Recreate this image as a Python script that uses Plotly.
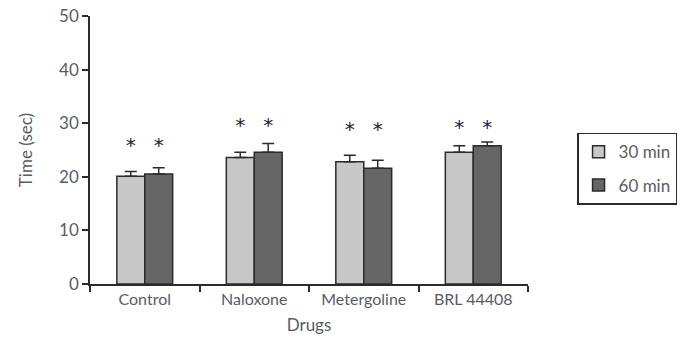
import plotly.graph_objects as go

drugs = ["Control", "Naloxone", "Metergoline", "BRL 44408"]
series_names = ["30 min", "60 min"]
time_30 = [20.1, 23.6, 22.8, 24.6]
err_30 = [0.9, 1.0, 1.2, 1.2]
time_60 = [20.5, 24.6, 21.6, 25.8]
err_60 = [1.2, 1.6, 1.5, 0.7]
star_30 = [25.6, 29.3, 28.5, 28.9]
star_60 = [25.6, 29.3, 28.5, 28.9]
y_ticks = [0, 10, 20, 30, 40, 50]

font_family = "Lato, 'Open Sans', sans-serif"
text_col = "#5b5b66"
line_col = "#2b2b2b"

fig = go.Figure()
for name, vals, errs, col in [
    (series_names[0], time_30, err_30, "#c8c8c8"),
    (series_names[1], time_60, err_60, "#666666"),
]:
    fig.add_trace(go.Bar(
        x=drugs, y=vals, name=name, offsetgroup=name, legendgroup=name,
        marker=dict(color=col, line=dict(color=line_col, width=1.5)),
        error_y=dict(type="data", array=errs, arrayminus=[0] * len(errs),
                     symmetric=False, color=line_col, thickness=1.5, width=6),
    ))

for name, ys in [(series_names[0], star_30), (series_names[1], star_60)]:
    fig.add_trace(go.Scatter(
        x=drugs, y=ys, mode="text", text=["*"] * len(ys),
        textfont=dict(size=20, color="#222233", family="DejaVu Sans"),
        textposition="middle center", showlegend=False, hoverinfo="skip",
        offsetgroup=name,
    ))

fig.update_layout(
    width=687, height=346,
    margin=dict(l=90, r=159, t=16, b=62, autoexpand=False),
    paper_bgcolor="white", plot_bgcolor="white",
    barmode="group", bargap=0.49, bargroupgap=0,
    scattermode="group", scattergap=0.49,
    font=dict(family=font_family, size=16, color=text_col),
    showlegend=True,
    legend=dict(xref="paper", x=1.112, xanchor="left", y=0.43, yanchor="middle",
                bordercolor=line_col, borderwidth=1.5,
                font=dict(size=17, color=text_col), itemwidth=30,
                tracegroupgap=8),
    xaxis=dict(
        showline=True, linecolor=line_col, linewidth=1.5,
        ticks="outside", tickson="boundaries", ticklen=6, tickwidth=1.5,
        tickcolor=line_col, showgrid=False, automargin=False,
        title=dict(text="Drugs", standoff=12, font=dict(size=17)),
        tickfont=dict(size=16),
    ),
    yaxis=dict(
        range=[0, 50], tickvals=y_ticks, automargin=False,
        showline=True, linecolor=line_col, linewidth=1.5,
        ticks="outside", ticklen=6, tickwidth=1.5, tickcolor=line_col,
        showgrid=False, zeroline=False,
        title=dict(text="Time (sec)", standoff=22, font=dict(size=17)),
        tickfont=dict(size=17),
    ),
)

fig.write_html("out.html", config={"displayModeBar": False},
               post_script="document.body.style.margin='0';")
